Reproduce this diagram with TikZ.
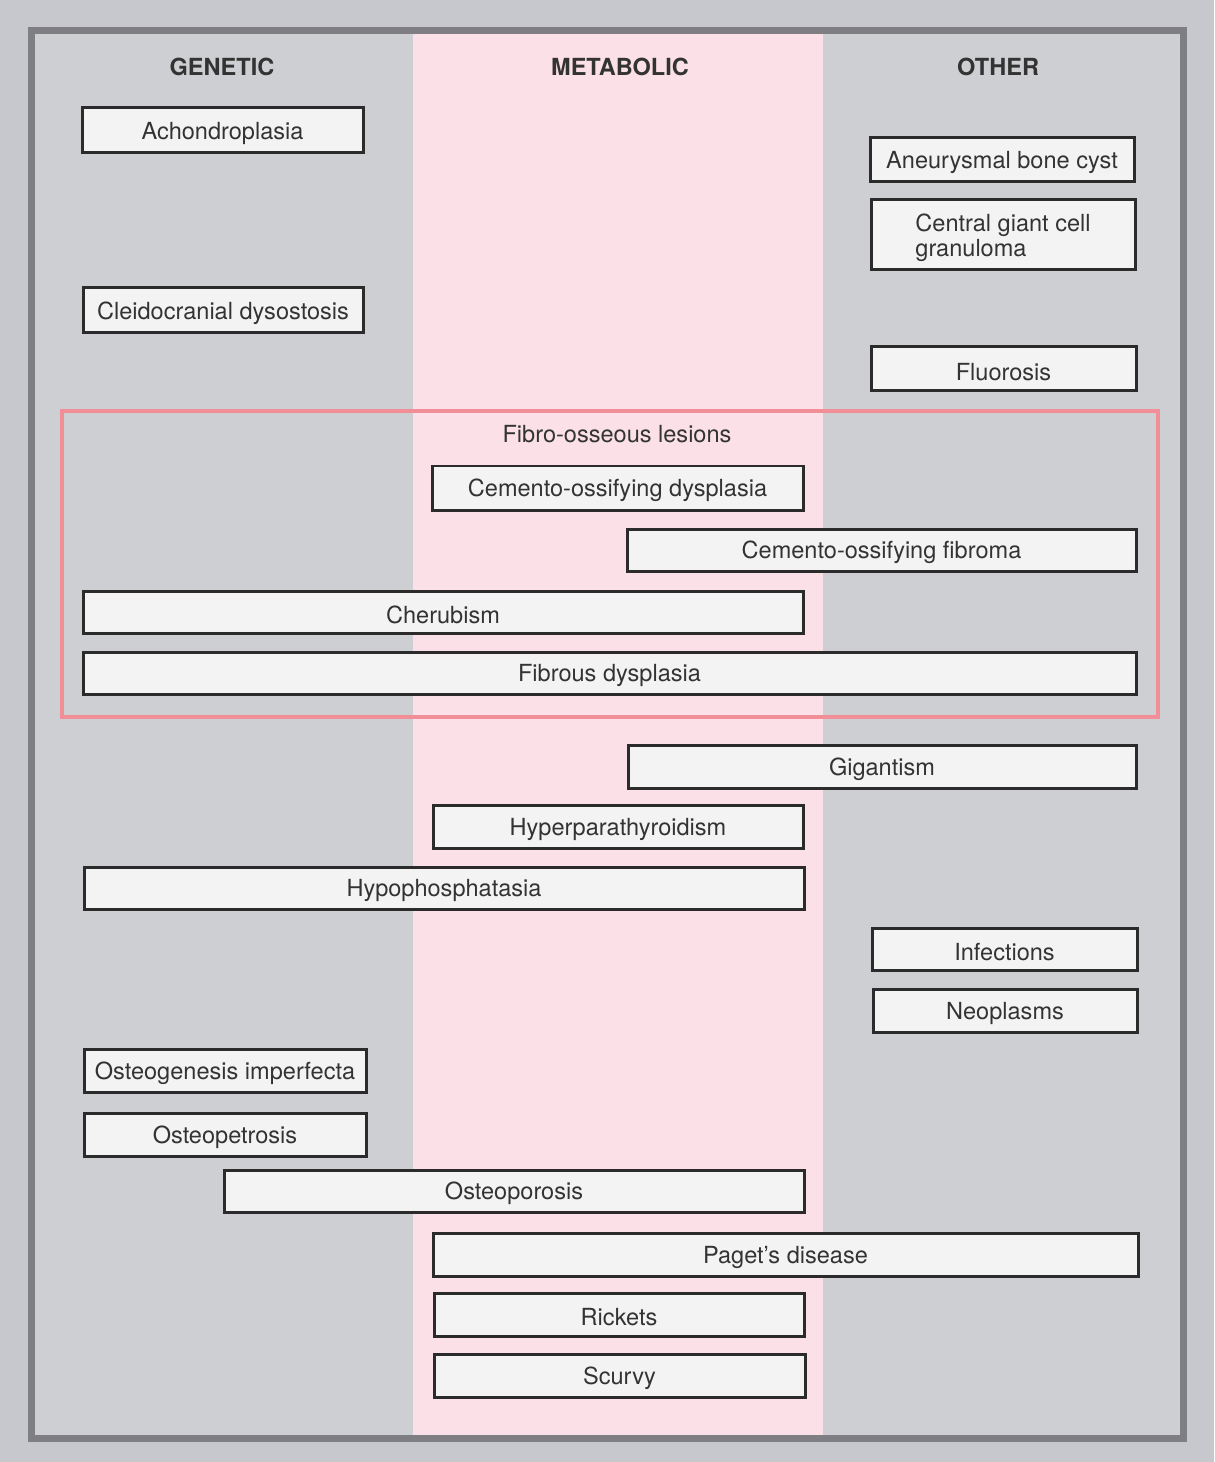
\documentclass[tikz,border=0pt]{standalone}
\usepackage{fontspec}
\setmainfont{TeX Gyre Heros}
\usetikzlibrary{fit}
\definecolor{pagegrey}{HTML}{C7C8CD}
\definecolor{panelgrey}{HTML}{CECFD2}
\definecolor{framegrey}{HTML}{7E7E83}
\definecolor{metpink}{HTML}{FBE1E7}
\definecolor{boxfill}{HTML}{F3F3F3}
\definecolor{boxline}{HTML}{2B2B2B}
\definecolor{ink}{HTML}{333333}
\definecolor{lesionred}{HTML}{F28E98}
\tikzset{
  entry/.style={draw=boxline, fill=boxfill, line width=0.06cm, inner sep=0pt},
  every label/.style={text=ink, font=\fontsize{13.4}{14.5}\selectfont, yshift=-1.5pt},
  heading/.style={text=ink, font=\fontsize{13.4}{14.5}\selectfont\bfseries},
}

\begin{document}
\begin{tikzpicture}[x=0.02cm,y=-0.02cm]
      % page, panel and the three columns
      \fill[pagegrey] (0,0) rectangle (1214,1462);
      \useasboundingbox (0,0) rectangle (1214,1462);
      \fill[panelgrey] (31,31) rectangle (1184,1439);
      \fill[metpink] (413,34) rectangle (823,1436);
      \draw[framegrey, line width=0.14cm] (31.5,30.5) rectangle (1183.5,1438.5);

      \node[heading] (genetic) at (222,67) {GENETIC};
      \node[heading] (metabolic) at (620,67) {METABOLIC};
      \node[heading] (other) at (998,67) {OTHER};

      % entries above the fibro-osseous group
      \node[entry, fit={(82,108) (363,153)}, label=center:Achondroplasia] (achon) {};
      \node[entry, fit={(83,288) (363,333)}, label=center:Cleidocranial dysostosis] (cleido) {};
      \node[entry, fit={(870,138) (1134,182)}, label=center:Aneurysmal bone cyst] (abc) {};
      \node[entry, fit={(871,200) (1135,270)},
            label={[align=left]center:Central giant cell\\granuloma}] (cgcg) {};
      \node[entry, fit={(871,347) (1136,391)}, label=center:Fluorosis] (fluoro) {};

      % fibro-osseous lesions
      \draw[lesionred, line width=0.065cm] (62,411) rectangle (1158,717);
      \node[text=ink, font=\fontsize{13.4}{14.5}\selectfont] (fibro) at (617,434) {Fibro-osseous lesions};
      \node[entry, fit={(432,466) (803,510)}, label=center:Cemento-ossifying dysplasia] (cod) {};
      \node[entry, fit={(627,529) (1136,571)}, label=center:Cemento-ossifying fibroma] (cof) {};
      \node[entry, fit={(83,591) (803,633)}, label=center:Cherubism] (cherub) {};
      \node[entry, fit={(83,652) (1136,694)}, label=center:Fibrous dysplasia] (fibdys) {};

      % remaining entries
      \node[entry, fit={(628,745) (1136,788)}, label=center:Gigantism] (gigant) {};
      \node[entry, fit={(433,805) (803,848)}, label=center:Hyperparathyroidism] (hpth) {};
      \node[entry, fit={(84,867) (804,909)}, label=center:Hypophosphatasia] (hypophos) {};
      \node[entry, fit={(872,928) (1137,970)}, label=center:Infections] (infect) {};
      \node[entry, fit={(873,989) (1137,1032)}, label=center:Neoplasms] (neopl) {};
      \node[entry, fit={(84,1049) (366,1092)}, label=center:Osteogenesis imperfecta] (oi) {};
      \node[entry, fit={(84,1113) (366,1156)}, label=center:Osteopetrosis] (opet) {};
      \node[entry, fit={(224,1170) (804,1212)}, label=center:Osteoporosis] (opor) {};
      \node[entry, fit={(433,1233) (1138,1276)}, label=center:Paget's disease] (paget) {};
      \node[entry, fit={(434,1293) (804,1336)}, label=center:Rickets] (rickets) {};
      \node[entry, fit={(434,1354) (805,1397)}, label=center:Scurvy] (scurvy) {};
\end{tikzpicture}
\end{document}
